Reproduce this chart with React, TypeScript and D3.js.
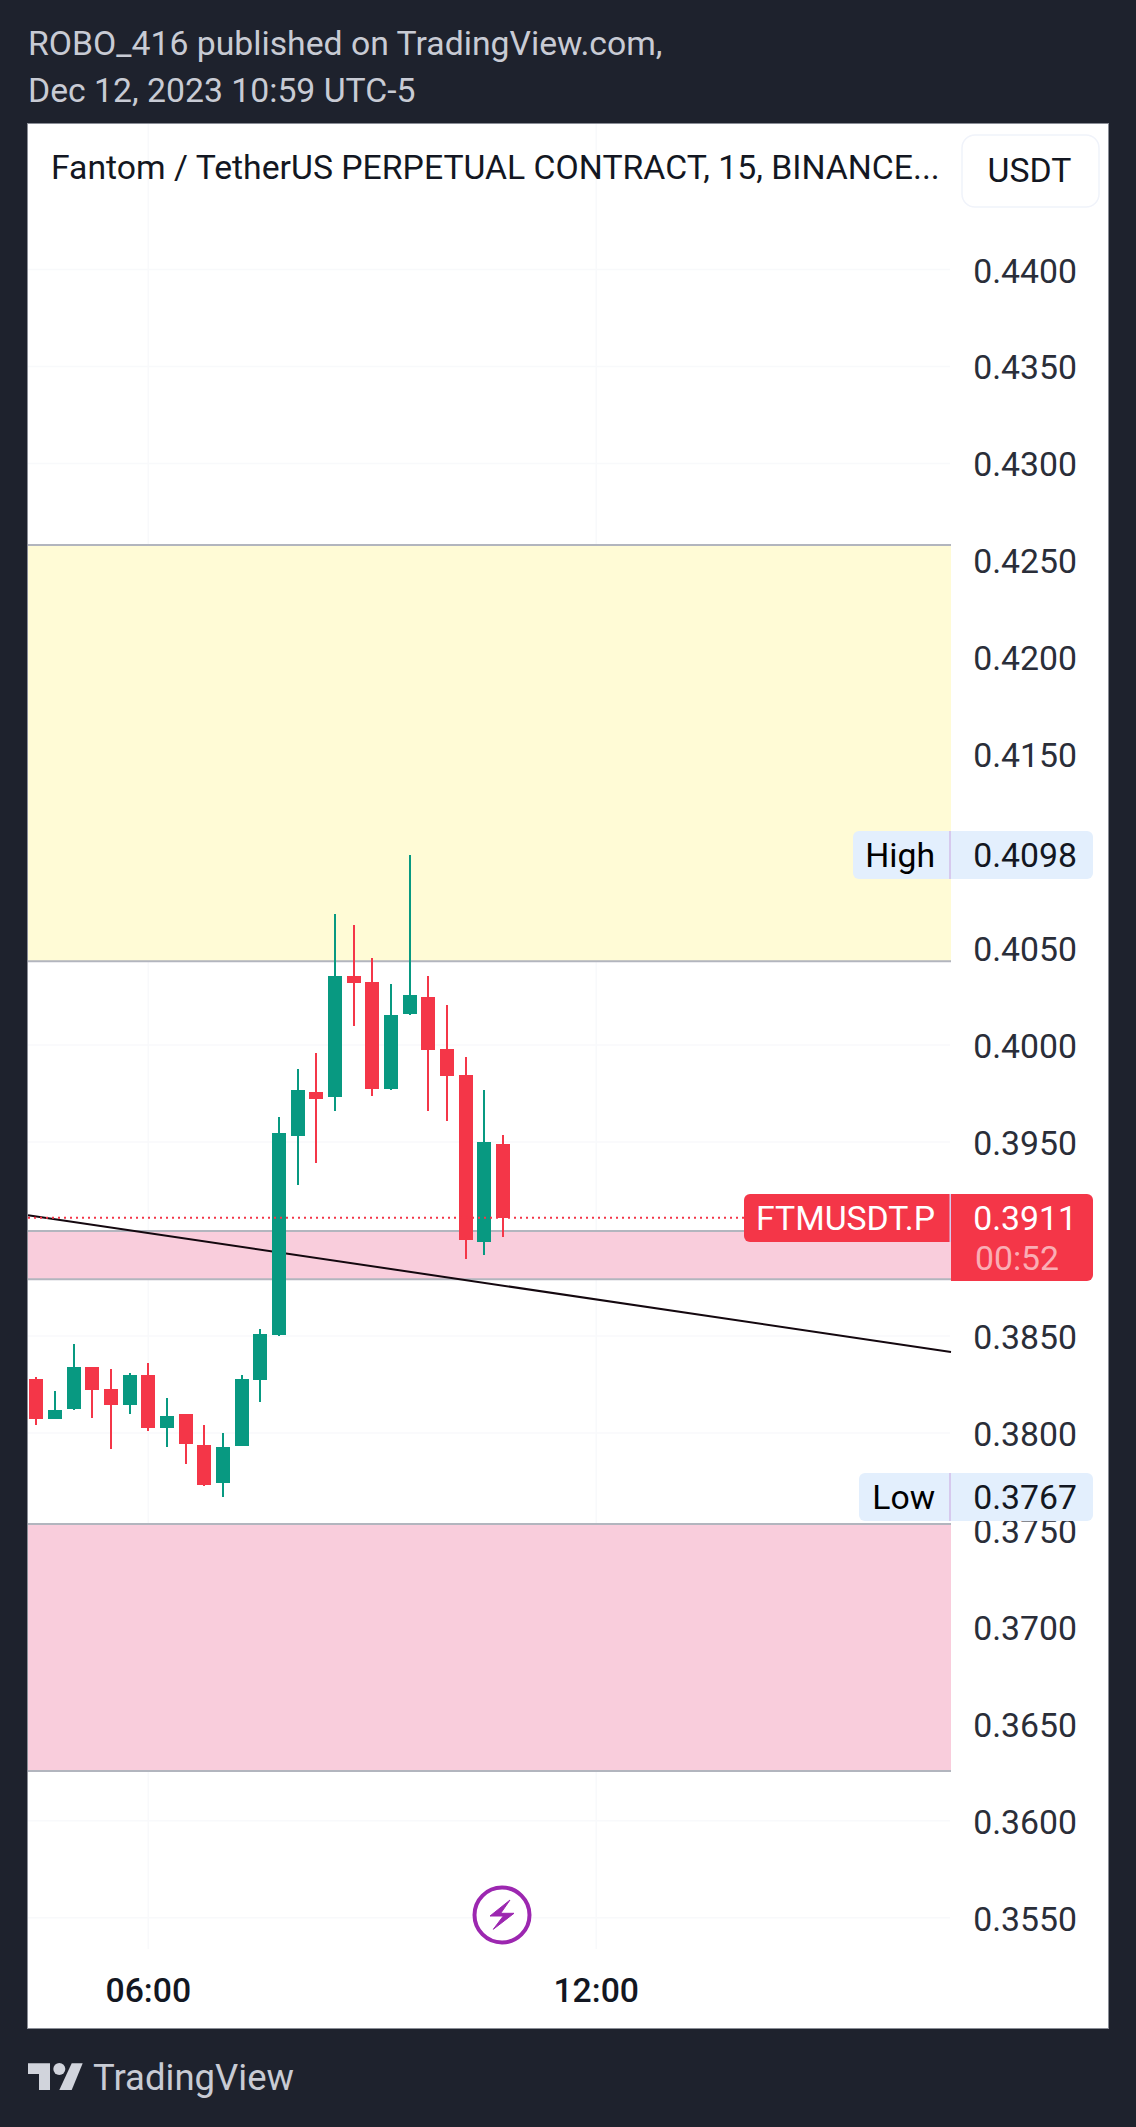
import React from "react";
import * as d3 from "d3";

const W = 1136, H = 2127;
const headerLines = ["ROBO_416 published on TradingView.com,", "Dec 12, 2023 10:59 UTC-5"];
const chartTitle = "Fantom / TetherUS PERPETUAL CONTRACT, 15, BINANCE...";
const currencyLabel = "USDT";
const brand = "TradingView";
const priceTicks = [0.44, 0.435, 0.43, 0.425, 0.42, 0.415, 0.405, 0.4, 0.395, 0.385, 0.38, 0.375, 0.37, 0.365, 0.36, 0.355];
const gridTicks = [0.44, 0.435, 0.43, 0.425, 0.42, 0.415, 0.41, 0.405, 0.4, 0.395, 0.39, 0.385, 0.38, 0.375, 0.37, 0.365, 0.36, 0.355];
const timeTicks = ["06:00", "12:00"];
const firstCandle = "2023-12-12T04:30:00";
const opens = [.38278, .38073, .38123, .3834, .38226, .38144, .38298, .38025, .38097, .37937, .37741, .37932, .38272, .38504, .39531, .39758, .39732, .40356, .40325, .39773, .4016, .40248, .39979, .39845, .38984, .3949];
const closes = [.38073, .38118, .3834, .38221, .38144, .38298, .38025, .38087, .37942, .37731, .37927, .38278, .3851, .39546, .39768, .39722, .40356, .4032, .39773, .40155, .40258, .39974, .3984, .38994, .395, .3911];
const highs = [.38288, .38216, .38458, .3834, .38329, .38309, .3836, .3818, .38097, .3804, .37999, .38298, .38535, .39629, .39876, .39959, .40676, .40619, .40449, .40315, .4098, .40356, .40206, .39938, .39768, .39536];
const lows = [.3804, .38073, .38118, .38076, .37917, .38097, .38009, .37927, .37839, .37726, .37669, .37932, .38159, .38499, .39278, .39392, .3966, .40098, .39737, .39768, .40155, .3966, .39608, .38896, .38917, .3901];
const zoneTops = [.42579, .39041, .3753];
const zoneBottoms = [.40433, .38793, .36256];
const zoneFills = ["#FFFBD6", "#F9CDDC", "#F9CDDC"];
const trendPrices = [.39123, .38417];
const lastPrice = 0.3911;
const highPrice = 0.4098;
const lowPrice = 0.3767;

const BG = "#1E222D", RED = "#F43648", GREEN = "#089981", INK = "#131722", AXIS = "#2A2E39";
const L = 28, R = 1108, T = 124, B = 2028, AX = 951;
const FONT = "Roboto, sans-serif";
const FS = 33.75;

const y = d3.scaleLinear().domain([0.44, 0.355]).range([269.5, 1917.7]);
const parse = d3.timeParse("%Y-%m-%dT%H:%M:%S");
const x = d3.scaleTime()
  .domain([parse("2023-12-12T06:00:00")!, parse("2023-12-12T12:00:00")!])
  .range([148.3, 596.2]);
const fmt = d3.format(".4f");
const t0 = parse(firstCandle)!;
const cx = (i: number) => Math.round(x(d3.timeMinute.offset(t0, i * 15)));
const timeX = (s: string) => x(parse(`2023-12-12T${s}:00`)!);

function Tag({ label, value, x0, fill }: { label: string; value: number; x0: number; fill: string }) {
  const cy = Math.round(y(value));
  const top = cy - 24, h = 48;
  return (
    <g>
      <path d={`M${AX},${top} H1087 a6,6 0 0 1 6,6 V${top + h - 6} a6,6 0 0 1 -6,6 H${AX} Z`} fill={fill} />
      <path d={`M${AX - 2},${top} H${x0 + 6} a6,6 0 0 0 -6,6 V${top + h - 6} a6,6 0 0 0 6,6 H${AX - 2} Z`} fill={fill} />
      <rect x={AX - 2} y={top} width={2} height={h} fill="#D6C9EE" />
      <text x={935} y={cy + 12} textAnchor="end" fontSize={FS} fill="#000">{label}</text>
      <text x={1077} y={cy + 12} textAnchor="end" fontSize={FS} fill={INK}>{fmt(value)}</text>
    </g>
  );
}

export default function App() {
  const lastY = y(lastPrice);
  return (
    <svg width={W} height={H} viewBox={`0 0 ${W} ${H}`} style={{ position: "absolute", left: 0, top: 0, display: "block" }} fontFamily={FONT}>
      <rect width={W} height={H} fill={BG} />
      {headerLines.map((s, i) => (
        <text key={s} x={28} y={55 + i * 47} fontSize={FS} fill="#C8CBD4">{s}</text>
      ))}
      <rect x={L - 0.5} y={T - 0.5} width={R - L + 1} height={B - T + 1} fill="#fff" stroke="#8A8D96" strokeWidth={1} />
      {gridTicks.map(p => (
        <line key={p} x1={L} x2={950} y1={y(p)} y2={y(p)} stroke="#F8F9FB" strokeWidth={1.5} />
      ))}
      {timeTicks.map(t => (
        <line key={t} x1={timeX(t)} x2={timeX(t)} y1={T} y2={1949} stroke="#F8F9FB" strokeWidth={1.5} />
      ))}
      {zoneTops.map((p, i) => (
        <g key={p}>
          <rect x={L} width={AX - L} y={y(p)} height={y(zoneBottoms[i]) - y(p)} fill={zoneFills[i]} />
          <line x1={L} x2={AX} y1={y(p)} y2={y(p)} stroke="#B2B5BE" strokeWidth={2} />
          <line x1={L} x2={AX} y1={y(zoneBottoms[i])} y2={y(zoneBottoms[i])} stroke="#B2B5BE" strokeWidth={2} />
        </g>
      ))}
      <line x1={L} x2={AX} y1={y(trendPrices[0])} y2={y(trendPrices[1])} stroke="#14080F" strokeWidth={2} />
      {opens.map((o, i) => {
        const c = closes[i];
        const col = c >= o ? GREEN : RED;
        const top = Math.round(y(Math.max(o, c)));
        const bot = Math.round(y(Math.min(o, c)));
        const X = cx(i);
        return (
          <g key={i} shapeRendering="crispEdges" fill={col}>
            <rect x={X - 1} width={2} y={y(highs[i])} height={y(lows[i]) - y(highs[i])} />
            <rect x={X - 7} width={14} y={top} height={Math.max(1, bot - top)} />
          </g>
        );
      })}
      <line x1={L} x2={744} y1={lastY} y2={lastY} stroke={RED} strokeWidth={2} strokeDasharray="2 4" />
      {priceTicks.map(p => (
        <text key={p} x={1077} y={y(p) + 13} textAnchor="end" fontSize={FS} fill={AXIS}>{fmt(p)}</text>
      ))}
      <rect x={962} y={135} width={137} height={72} rx={13} fill="#fff" stroke="#F0F3FA" strokeWidth={1.5} />
      <text x={1029.5} y={182} textAnchor="middle" fontSize={FS} fill={INK}>{currencyLabel}</text>
      <text x={51} y={179} fontSize={FS} fill={INK}>{chartTitle}</text>

      <Tag label="High" value={highPrice} x0={853} fill="#E3EFFD" />
      <Tag label="Low" value={lowPrice} x0={859} fill="#E3EFFD" />

      <path d="M950,1194 H750 a6,6 0 0 0 -6,6 V1236 a6,6 0 0 0 6,6 H950 Z" fill={RED} />
      <path d="M951,1194 H1087 a6,6 0 0 1 6,6 V1275 a6,6 0 0 1 -6,6 H951 Z" fill={RED} />
      <rect x={949.5} y={1194} width={1.5} height={48} fill="#D6C9EE" />
      <text x={935} y={1230} textAnchor="end" fontSize={FS} fill="#fff">FTMUSDT.P</text>
      <text x={1077} y={1230} textAnchor="end" fontSize={FS} fill="#fff">{fmt(lastPrice)}</text>
      <text x={975} y={1270} fontSize={FS} fill="#fff" fillOpacity={0.6}>00:52</text>

      <circle cx={502} cy={1915} r={27.5} fill="#fff" stroke="#9C27B0" strokeWidth={4} />
      <path d="M510,1900 L490,1916 H503.3 L493.3,1929.3 L514,1913.3 H500.7 Z" fill="#9C27B0" stroke="#9C27B0" strokeWidth={1} strokeLinejoin="round" />

      {timeTicks.map(t => (
        <text key={t} x={timeX(t)} y={2002} textAnchor="middle" fontSize={FS} fontWeight={500} fill={INK}>{t}</text>
      ))}

      <path d="M28,2063.3 H50 V2090 H39 V2074 H28 Z" fill="#D1D4DC" />
      <circle cx={59.3} cy={2069} r={6} fill="#D1D4DC" />
      <path d="M71.7,2063.3 H82.7 L71.7,2090 H59.3 Z" fill="#D1D4DC" />
      <text x={93} y={2090} fontSize={36.5} fill="#C8CBD4">{brand}</text>
    </svg>
  );
}
